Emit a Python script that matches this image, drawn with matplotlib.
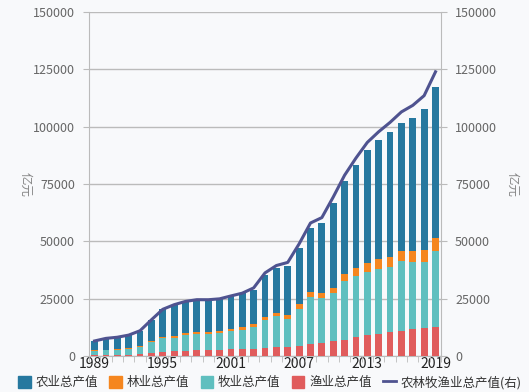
import numpy as np
import matplotlib
matplotlib.use("Agg")
import matplotlib.pyplot as plt
from matplotlib.lines import Line2D
from matplotlib.patches import Patch

plt.rcParams["font.family"] = ["Noto Sans CJK SC", "DejaVu Sans"]

years = list(range(1989, 2020))

# 亿元
farming = [4100.6, 4954.3, 5146.4, 5588.0, 6605.1, 9169.2, 11884.6, 13539.8, 13852.5, 14241.9,
           14106.2, 13873.6, 14462.8, 14931.5, 14870.1, 18138.4, 19613.4, 21522.3, 24658.1, 28044.2,
           30777.5, 36941.1, 40560.0, 45000.0, 49140.0, 51900.0, 54205.3, 55659.9, 58059.8, 61452.6,
           66066.5]
forestry = [284.9, 330.3, 367.9, 422.6, 494.0, 611.1, 709.9, 778.0, 817.8, 851.3,
            886.3, 936.5, 938.8, 1033.5, 1239.9, 1327.1, 1425.5, 1610.8, 1861.6, 2152.9,
            2193.0, 2595.5, 3050.0, 3500.0, 3920.0, 4360.0, 4358.4, 4635.9, 4980.6, 5432.6,
            5775.7]
husbandry = [1800.4, 1967.0, 2159.2, 2460.5, 3014.4, 4672.0, 6045.0, 6015.5, 6835.4, 7025.8,
             6997.6, 7393.1, 7963.1, 8454.6, 9538.8, 12173.8, 13310.8, 12083.9, 16124.9, 20583.6,
             19468.4, 20825.7, 25710.0, 26600.0, 27620.0, 28350.0, 28649.3, 30461.2, 29361.2, 28697.4,
             33064.3]
fishery = [348.8, 410.6, 483.5, 613.5, 882.0, 1298.2, 1701.3, 2020.4, 2282.7, 2422.9,
           2529.0, 2712.6, 2815.0, 2971.1, 3137.6, 3605.6, 4016.1, 3970.5, 4457.5, 5203.4,
           5626.4, 6422.4, 7000.0, 8400.0, 9160.0, 9590.0, 10339.1, 10892.9, 11577.1, 12131.5,
           12572.4]
total = [6534.7, 7662.1, 8157.0, 9084.7, 10995.5, 15750.5, 20340.9, 22353.7, 23788.4, 24541.9,
         24519.1, 24915.8, 26179.6, 27390.8, 29691.8, 36239.0, 39450.9, 40810.8, 48893.0, 58002.2,
         60361.0, 69319.8, 78837.0, 86342.0, 93173.0, 97822.5, 101893.5, 106478.7, 109331.7, 113579.5,
         123967.9]

names = ["农业总产值", "林业总产值", "牧业总产值", "渔业总产值", "农林牧渔业总产值(右)"]
c_farm, c_forest, c_husb, c_fish, c_line = "#26789f", "#f5861f", "#5fbfbf", "#e05c5c", "#4f5390"
bg = "#f8f9fb"

fig = plt.figure(figsize=(5.29, 3.92), dpi=100, facecolor=bg)
ax = fig.add_axes([0.168, 0.092, 0.666, 0.877], facecolor=bg)
ax2 = ax.twinx()

x = np.arange(len(years))
w = 0.6
b1 = np.array(fishery)
b2 = b1 + np.array(husbandry)
b3 = b2 + np.array(forestry)
ax.bar(x, fishery, w, color=c_fish, zorder=3)
ax.bar(x, husbandry, w, bottom=b1, color=c_husb, zorder=3)
ax.bar(x, forestry, w, bottom=b2, color=c_forest, zorder=3)
ax.bar(x, farming, w, bottom=b3, color=c_farm, zorder=3)
ax2.plot(x, total, color=c_line, lw=2.2, zorder=4, solid_joinstyle="round")

ticks = np.arange(0, 150001, 25000)
for a in (ax, ax2):
    a.set_ylim(0, 150000)
    a.set_yticks(ticks)
    a.set_yticklabels([str(t) for t in ticks], fontsize=9, color="#666666")
    a.tick_params(axis="y", length=4, color="#bbbbbb", pad=6)
    for s in a.spines.values():
        s.set_visible(False)
ax.spines["left"].set_visible(True)
ax.spines["left"].set_color("#bbbbbb")
ax2.spines["right"].set_visible(True)
ax2.spines["right"].set_color("#bbbbbb")
ax.spines["bottom"].set_visible(True)
ax.spines["bottom"].set_color("#bbbbbb")
ax.yaxis.grid(True, color="#bbbbbb", lw=1, zorder=0)
ax.set_axisbelow(True)

ax.set_xlim(-0.5, len(years) - 0.5)
lab_idx = list(range(0, len(years), 6))
ax.set_xticks(lab_idx)
ax.set_xticklabels([str(years[i]) for i in lab_idx], fontsize=10, color="#222222")
ax.tick_params(axis="x", length=0, pad=1)
ax.set_xticks(np.arange(-0.5, len(years), 1), minor=True)
ax.tick_params(axis="x", which="minor", length=4, color="#bbbbbb")

ax.set_ylabel("亿元", rotation=270, fontsize=9, color="#888888", labelpad=4)
ax.yaxis.set_label_coords(-0.2, 0.5)
ax2.set_ylabel("亿元", rotation=270, fontsize=9, color="#888888")
ax2.yaxis.set_label_coords(1.22, 0.5)

handles = [Patch(color=c) for c in (c_farm, c_forest, c_husb, c_fish)]
handles.append(Line2D([0], [0], color=c_line, lw=2))
fig.legend(handles, names, loc="lower center", bbox_to_anchor=(0.51, -0.022), ncol=5,
           frameon=False, fontsize=9, handlelength=1.0, handleheight=1.0,
           handletextpad=0.4, columnspacing=0.9, labelcolor="#333333")

fig.savefig("out.png", dpi=100, facecolor=bg)
